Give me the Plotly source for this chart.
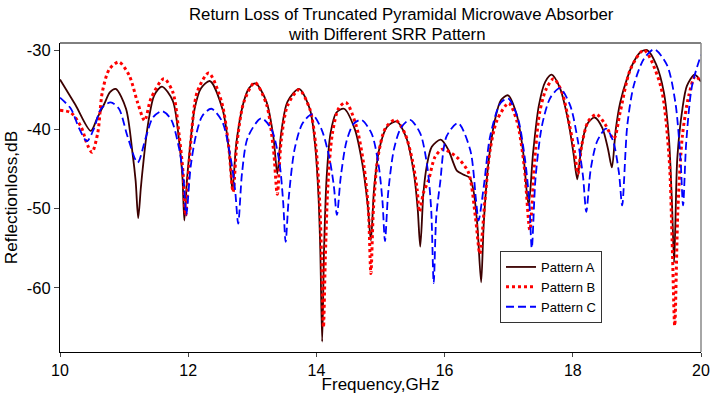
import plotly.graph_objects as go

# ---- data ----
freq_a = [10.00, 10.24, 10.48, 10.58, 10.69, 10.78, 10.87, 11.03, 11.13, 11.18, 11.22, 11.26, 11.29, 11.37, 11.47,
          11.59, 11.76, 11.86, 11.91, 11.94, 11.98, 12.02, 12.10, 12.20, 12.34, 12.54, 12.64, 12.69, 12.75, 12.86,
          12.95, 13.05, 13.22, 13.33, 13.39, 13.45, 13.55, 13.73, 13.90, 13.98, 14.03, 14.06, 14.09, 14.12, 14.16,
          14.22, 14.31, 14.43, 14.60, 14.72, 14.80, 14.85, 14.90, 14.98, 15.10, 15.25, 15.40, 15.52, 15.58, 15.62,
          15.67, 15.72, 15.80, 15.94, 16.06, 16.14, 16.19, 16.29, 16.39, 16.45, 16.51, 16.57, 16.61, 16.68, 16.78,
          16.88, 16.99, 17.12, 17.22, 17.31, 17.38, 17.47, 17.57, 17.67, 17.80, 17.93, 18.01, 18.07, 18.13, 18.22,
          18.34, 18.46, 18.55, 18.61, 18.67, 18.74, 18.85, 18.95, 19.05, 19.16, 19.30, 19.42, 19.50, 19.55, 19.58,
          19.60, 19.63, 19.71, 19.78, 19.90, 20.00]
loss_a = [-33.7, -36.9, -40.2, -38.6, -36.8, -35.3, -34.9, -37.4, -42.9, -46.5, -51.2, -47.5, -45.0, -39.5, -35.7,
          -34.6, -36.4, -41.6, -46.0, -51.5, -46.5, -42.9, -37.4, -34.8, -33.9, -37.6, -43.0, -47.7, -41.8, -36.7,
          -34.8, -34.2, -36.5, -41.0, -45.6, -40.5, -36.5, -34.9, -37.5, -42.0, -48.0, -55.0, -66.8, -55.0, -46.0,
          -40.5, -37.9, -37.4, -40.0, -44.5, -49.5, -54.0, -47.5, -42.5, -39.7, -39.0, -41.0, -45.5, -50.0, -54.8,
          -48.0, -44.7, -42.2, -41.3, -42.6, -44.3, -45.2, -45.7, -46.1, -47.7, -52.0, -59.3, -52.0, -44.5, -39.0,
          -36.3, -35.7, -38.0, -42.5, -49.6, -43.0, -37.0, -34.0, -33.1, -34.8, -39.0, -43.0, -46.3, -42.5, -39.4,
          -38.5, -39.8, -42.5, -44.8, -40.0, -36.6, -33.5, -31.5, -30.3, -30.0, -31.8, -35.3, -41.2, -50.0, -56.8,
          -52.0, -43.7, -37.4, -34.5, -33.1, -34.0]

freq_b = [10.00, 10.17, 10.33, 10.43, 10.50, 10.59, 10.66, 10.77, 10.92, 11.08, 11.21, 11.32, 11.42, 11.62, 11.76,
          11.86, 11.92, 11.96, 12.00, 12.04, 12.14, 12.32, 12.52, 12.63, 12.70, 12.76, 12.87, 13.04, 13.22, 13.33,
          13.39, 13.45, 13.55, 13.73, 13.90, 13.99, 14.05, 14.08, 14.11, 14.14, 14.18, 14.25, 14.35, 14.46, 14.62,
          14.74, 14.81, 14.85, 14.89, 14.96, 15.08, 15.23, 15.38, 15.50, 15.57, 15.61, 15.67, 15.75, 15.85, 15.97,
          16.19, 16.37, 16.48, 16.55, 16.63, 16.71, 16.82, 17.00, 17.13, 17.24, 17.33, 17.40, 17.48, 17.58, 17.70,
          17.83, 17.95, 18.03, 18.08, 18.14, 18.24, 18.37, 18.50, 18.64, 18.74, 18.90, 19.11, 19.37, 19.50, 19.55,
          19.59, 19.64, 19.71, 19.81, 19.91, 20.00]
loss_b = [-37.6, -37.9, -39.7, -42.0, -42.9, -40.4, -35.3, -32.4, -31.5, -33.2, -36.6, -38.9, -36.1, -33.6, -35.3,
          -40.8, -45.5, -50.9, -46.0, -41.6, -35.3, -32.9, -36.5, -42.0, -47.9, -41.8, -36.5, -34.1, -36.8, -42.5,
          -48.2, -41.5, -37.0, -35.0, -37.5, -42.0, -49.0, -56.0, -65.0, -56.0, -47.0, -40.5, -37.3, -36.6, -39.5,
          -44.5, -50.0, -58.2, -50.0, -43.5, -39.8, -38.8, -40.5, -44.0, -47.5, -50.4, -48.0, -46.4, -43.5, -42.5,
          -43.5, -45.4, -51.0, -55.7, -48.9, -42.6, -38.8, -36.7, -39.0, -44.5, -52.7, -44.5, -38.0, -35.0, -33.6,
          -35.3, -39.5, -43.0, -45.6, -42.0, -39.0, -38.1, -39.3, -41.2, -37.8, -32.4, -30.0, -34.5, -43.3, -54.2,
          -64.8, -50.0, -40.8, -35.7, -33.3, -34.0]

freq_c = [10.00, 10.17, 10.30, 10.42, 10.53, 10.64, 10.79, 10.92, 11.05, 11.21, 11.34, 11.45, 11.59, 11.73, 11.86,
          11.93, 11.97, 12.04, 12.12, 12.22, 12.36, 12.53, 12.66, 12.73, 12.78, 12.84, 12.93, 13.14, 13.30, 13.42,
          13.48, 13.52, 13.57, 13.66, 13.78, 13.93, 14.08, 14.20, 14.27, 14.32, 14.38, 14.47, 14.58, 14.70, 14.86,
          14.97, 15.03, 15.07, 15.12, 15.21, 15.32, 15.46, 15.62, 15.73, 15.79, 15.83, 15.87, 15.93, 16.03, 16.21,
          16.40, 16.49, 16.53, 16.61, 16.71, 16.87, 16.99, 17.14, 17.25, 17.32, 17.36, 17.42, 17.52, 17.65, 17.80,
          17.96, 18.08, 18.16, 18.21, 18.28, 18.38, 18.52, 18.63, 18.72, 18.77, 18.85, 18.95, 19.11, 19.27, 19.47,
          19.60, 19.68, 19.72, 19.77, 19.86, 20.00]
loss_c = [-36.0, -37.4, -39.9, -41.5, -39.9, -37.4, -36.6, -37.4, -40.8, -44.2, -41.0, -38.5, -37.7, -38.7, -42.5,
          -46.5, -50.8, -44.6, -40.8, -38.3, -37.4, -39.0, -43.5, -47.5, -51.9, -45.5, -41.0, -38.6, -40.0, -44.0,
          -49.0, -54.2, -48.5, -42.5, -39.3, -38.1, -40.0, -43.5, -47.0, -50.8, -46.0, -41.5, -39.3, -38.8, -40.5,
          -44.5, -49.0, -54.1, -48.0, -42.5, -39.8, -38.8, -40.5, -44.7, -50.0, -59.4, -51.0, -46.8, -40.9, -39.2,
          -42.6, -48.9, -51.5, -47.3, -40.9, -36.7, -36.1, -38.5, -43.5, -49.0, -55.0, -46.0, -39.5, -36.0, -34.8,
          -37.0, -41.5, -46.0, -50.4, -45.0, -41.5, -39.9, -41.5, -45.5, -49.6, -39.5, -34.5, -31.1, -29.9, -31.9,
          -36.6, -43.7, -49.6, -41.6, -34.5, -30.6]

series_names = ["Pattern A", "Pattern B", "Pattern C"]
x_ticks = [10, 12, 14, 16, 18, 20]
y_ticks = [-30, -40, -50, -60]
y_tick_text = ["-30", "-40", "-50", "-60"]
title_lines = ["Return Loss of Truncated Pyramidal Microwave Absorber", "with Different SRR Pattern"]

FONT = "Liberation Sans, Arial, sans-serif"

# plot-area geometry (pixels) used for placing the title lines
L, R, T, B = 60, 12, 43, 42
W, H = 713, 394
PW, PH = W - L - R, H - T - B

def px_x(px):
    return (px - L) / PW

def px_y(py):
    return (H - B - py) / PH

fig = go.Figure()
fig.add_trace(go.Scatter(x=freq_a, y=loss_a, mode="lines", name=series_names[0],
                         line=dict(color="#3c0000", width=1.8, shape="spline", smoothing=0.8)))
fig.add_trace(go.Scatter(x=freq_b, y=loss_b, mode="lines", name=series_names[1],
                         line=dict(color="#ff0000", width=3, dash="dot", shape="spline", smoothing=0.8)))
fig.add_trace(go.Scatter(x=freq_c, y=loss_c, mode="lines", name=series_names[2],
                         line=dict(color="#0000ff", width=1.8, dash="8px,4px", shape="spline", smoothing=0.8)))

fig.update_layout(
    width=W, height=H,
    margin=dict(l=L, r=R, t=T, b=B, autoexpand=False),
    paper_bgcolor="white", plot_bgcolor="white",
    font=dict(family=FONT, color="black"),
    showlegend=True,
    legend=dict(x=px_x(500), y=px_y(251), xanchor="left", yanchor="top",
                bordercolor="#333333", borderwidth=1, bgcolor="white",
                font=dict(size=13, family=FONT), tracegroupgap=0, itemwidth=30),
    xaxis=dict(range=[10, 20], tickvals=x_ticks, ticks="outside", ticklen=4, automargin=False,
               showline=True, linecolor="black", linewidth=1, showgrid=False, zeroline=False,
               tickfont=dict(size=16), title=dict(text="Frequency,GHz", font=dict(size=17), standoff=5)),
    yaxis=dict(range=[-68.1, -29.1], tickvals=y_ticks, ticktext=y_tick_text, ticks="outside", ticklen=5,
               automargin=False,
               showline=True, linecolor="black", linewidth=1, showgrid=False, zeroline=False,
               tickfont=dict(size=16.5), title=dict(text="Reflectionloss,dB", font=dict(size=17.3), standoff=4)),
    shapes=[
        dict(type="line", xref="paper", yref="paper", x0=0, x1=1, y0=1, y1=1,
             line=dict(color="black", width=1)),
        dict(type="line", xref="paper", yref="paper", x0=1, x1=1, y0=0, y1=1,
             line=dict(color="#888888", width=1.5)),
    ],
    annotations=[
        dict(text=title_lines[0], xref="paper", yref="paper", x=px_x(401.5), y=px_y(14.8),
             xanchor="center", yanchor="middle", showarrow=False, font=dict(size=16.8, family=FONT)),
        dict(text=title_lines[1], xref="paper", yref="paper", x=px_x(386.7), y=px_y(34.8),
             xanchor="center", yanchor="middle", showarrow=False, font=dict(size=16.8, family=FONT)),
    ],
)

fig.write_html("out.html")
